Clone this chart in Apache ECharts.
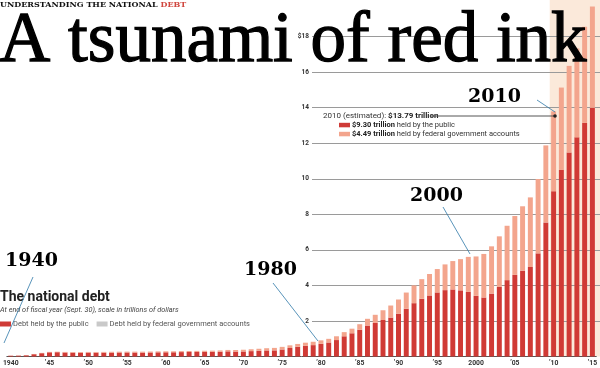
<!DOCTYPE html>
<html>
<head>
<meta charset="utf-8">
<script src="https://cdn.jsdelivr.net/npm/echarts@6/dist/echarts.min.js"></script>
<style>
  html, body { margin: 0; padding: 0; background: #fff; }
  #chart { width: 600px; height: 368px; }
</style>
</head>
<body>
<div id="chart"></div>
<script>
// Fiscal years (categories)
const years = [
  '1940','1941','1942','1943','1944','1945','1946','1947','1948','1949',
  '1950','1951','1952','1953','1954','1955','1956','1957','1958','1959',
  '1960','1961','1962','1963','1964','1965','1966','1967','1968','1969',
  '1970','1971','1972','1973','1974','1975','1976','1977','1978','1979',
  '1980','1981','1982','1983','1984','1985','1986','1987','1988','1989',
  '1990','1991','1992','1993','1994','1995','1996','1997','1998','1999',
  '2000','2001','2002','2003','2004','2005','2006','2007','2008','2009',
  '2010','2011','2012','2013','2014','2015'
];
// Debt held by the public, trillions of dollars
const publicDebt = [
  0.043,0.048,0.068,0.128,0.185,0.235,0.242,0.224,0.216,0.214,
  0.219,0.214,0.215,0.218,0.225,0.227,0.222,0.219,0.226,0.235,
  0.237,0.238,0.248,0.254,0.257,0.261,0.264,0.267,0.290,0.278,
  0.283,0.303,0.322,0.341,0.344,0.395,0.477,0.549,0.607,0.640,
  0.712,0.789,0.925,1.137,1.307,1.507,1.741,1.890,2.052,2.191,
  2.412,2.689,3.000,3.248,3.433,3.604,3.734,3.772,3.721,3.632,
  3.410,3.320,3.540,3.913,4.296,4.592,4.829,5.035,5.803,7.545,
  9.30,10.50,11.48,12.33,13.14,13.99
];
// Debt held by federal government accounts, trillions of dollars
const govAccounts = [
  0.008,0.009,0.011,0.015,0.019,0.025,0.029,0.033,0.036,0.038,
  0.038,0.041,0.044,0.048,0.046,0.048,0.051,0.053,0.053,0.053,
  0.054,0.054,0.055,0.056,0.059,0.062,0.065,0.074,0.079,0.088,
  0.098,0.105,0.114,0.125,0.140,0.147,0.152,0.157,0.170,0.189,
  0.197,0.205,0.213,0.234,0.258,0.310,0.380,0.456,0.550,0.677,
  0.795,0.909,1.002,1.103,1.210,1.316,1.447,1.597,1.757,1.973,
  2.219,2.450,2.658,2.847,3.059,3.313,3.622,3.916,4.183,4.331,
  4.49,4.63,4.87,5.00,5.41,5.70
];
// Y tick labels
const yTickLabels = { 2:'2', 4:'4', 6:'6', 8:'8', 10:'10', 12:'12', 14:'14', 16:'16', 18:'$18' };
const estimateStart = '2010';
const seriesNames = ['Debt held by the public', 'Debt held by federal government accounts'];

const RED = '#d03a35', SALMON = '#f3a58d', BEIGE = '#fbe9da', LEGEND_GRAY = '#c9c9c9';

const chart = echarts.init(document.getElementById('chart'), null, { renderer: 'canvas' });

chart.setOption({
  animation: false,
  backgroundColor: '#ffffff',
  grid: [
    { left: 0, right: 0, top: 1, bottom: 11.5 },
    { left: 312, right: 0, top: 1, bottom: 11.5 }
  ],
  xAxis: [
    {
      type: 'category', gridIndex: 0, data: years, z: 1,
      axisLine: { lineStyle: { color: '#555', width: 1 } },
      axisTick: { interval: 4, alignWithLabel: true, length: 3, lineStyle: { color: '#555' } },
      axisLabel: {
        interval: 4, margin: 3, fontSize: 6.8, fontWeight: 'bold', color: '#333', fontFamily: 'Roboto',
        formatter: v => (v === '1940' || v === '2000') ? v : '\u2019' + v.slice(2)
      }
    },
    { type: 'value', gridIndex: 1, show: false, min: 0, max: 1 }
  ],
  yAxis: [
    { type: 'value', gridIndex: 0, min: 0, max: 20, interval: 2, show: false },
    {
      type: 'value', gridIndex: 1, min: 0, max: 20, interval: 2, z: 1,
      axisLine: { show: false }, axisTick: { show: false },
      splitLine: { showMinLine: false, showMaxLine: false, lineStyle: { color: '#9a9a9a', width: 1 } },
      axisLabel: {
        margin: 3, fontSize: 6.5, fontWeight: 'bold', color: '#333', fontFamily: 'Roboto',
        formatter: v => yTickLabels[v] || ''
      }
    }
  ],
  legend: {
    left: 0, top: 320, padding: 0, itemWidth: 11, itemHeight: 5, itemGap: 8, icon: 'rect',
    textStyle: { fontSize: 7.5, color: '#555', fontFamily: 'Roboto', padding: [0, 0, 0, -3] },
    data: [
      { name: seriesNames[0], itemStyle: { color: '#cf3b37' } },
      { name: seriesNames[1], itemStyle: { color: LEGEND_GRAY } }
    ]
  },
  series: [
    { name: seriesNames[0], type: 'bar', stack: 'debt', xAxisIndex: 0, yAxisIndex: 0,
      barWidth: '64%', data: publicDebt, itemStyle: { color: RED } },
    { name: seriesNames[1], type: 'bar', stack: 'debt', xAxisIndex: 0, yAxisIndex: 0,
      data: govAccounts, itemStyle: { color: SALMON } }
  ]
});

// Shaded estimate region, positioned from the axis scale
const c0 = chart.convertToPixel({ xAxisIndex: 0 }, estimateStart);
const c1 = chart.convertToPixel({ xAxisIndex: 0 }, years[years.indexOf(estimateStart) + 1]);
const band = c1 - c0;
const shadeLeft = c0 - band / 2;
const yZero = chart.convertToPixel({ yAxisIndex: 0 }, 0);

const serifYear = 'bold 19px "DejaVu Serif"';
const pointerStyle = { stroke: '#2f78a8', lineWidth: 0.8 };
const annRich = {
  n: { font: '7.5px Roboto', fill: '#333' },
  b: { font: 'bold 7.5px Roboto', fill: '#222' },
  n8: { font: '8px Roboto', fill: '#333' },
  b8: { font: 'bold 8px Roboto', fill: '#222' }
};

chart.setOption({
  graphic: { elements: [
    { id: 'shade', type: 'rect', z: 0, silent: true,
      shape: { x: shadeLeft, y: 0, width: 600 - shadeLeft, height: yZero },
      style: { fill: BEIGE } },
    { id: 'kicker', type: 'text', z: 10, x: 0, y: 5,
      style: { text: '{k|UNDERSTANDING THE NATIONAL }{r|DEBT}', verticalAlign: 'middle',
        rich: { k: { font: 'bold 8px "DejaVu Serif"', fill: '#111' },
                r: { font: 'bold 8px "DejaVu Serif"', fill: '#d0473f' } } } },
    { id: 'title', type: 'text', z: 10, x: -1, y: 42,
      style: { text: 'A tsunami of red ink', font: '71px "Liberation Serif"', fill: '#000',
        stroke: '#000', lineWidth: 1.3, verticalAlign: 'middle' } },
    { id: 'sub1', type: 'text', z: 10, x: 0, y: 297,
      style: { text: 'The national debt', font: 'bold 14px Roboto', fill: '#222', verticalAlign: 'middle' } },
    { id: 'sub2', type: 'text', z: 10, x: 0, y: 310,
      style: { text: 'At end of fiscal year (Sept. 30), scale in trillions of dollars', font: 'italic 7.3px Roboto', fill: '#444', verticalAlign: 'middle' } },
    // 2010 annotation
    { id: 'ann1', type: 'text', z: 10, x: 323, y: 116,
      style: { text: '{n8|2010 (estimated): }{b8|$13.79 trillion}', verticalAlign: 'middle', rich: annRich } },
    { id: 'annLine', type: 'line', z: 10, shape: { x1: 430, y1: 116, x2: 555, y2: 116 }, style: { stroke: '#555', lineWidth: 1 } },
    { id: 'annDot', type: 'circle', z: 11, shape: { cx: 555, cy: 116, r: 1.8 }, style: { fill: '#222' } },
    { id: 'annSw1', type: 'rect', z: 10, shape: { x: 339, y: 122.8, width: 11, height: 4.5 }, style: { fill: '#cf3b37' } },
    { id: 'ann2', type: 'text', z: 10, x: 352, y: 125,
      style: { text: '{b|$9.30 trillion}{n| held by the public}', verticalAlign: 'middle', rich: annRich } },
    { id: 'annSw2', type: 'rect', z: 10, shape: { x: 339, y: 131.8, width: 11, height: 4.5 }, style: { fill: SALMON } },
    { id: 'ann3', type: 'text', z: 10, x: 352, y: 134,
      style: { text: '{b|$4.49 trillion}{n| held by federal government accounts}', verticalAlign: 'middle', rich: annRich } },
    // Year call-outs
    { id: 'y1940', type: 'text', z: 12, x: 5, y: 261, style: { text: '1940', font: serifYear, fill: '#000', verticalAlign: 'middle' } },
    { id: 'y1980', type: 'text', z: 12, x: 244, y: 270, style: { text: '1980', font: serifYear, fill: '#000', verticalAlign: 'middle' } },
    { id: 'y2000', type: 'text', z: 12, x: 410, y: 196, style: { text: '2000', font: serifYear, fill: '#000', verticalAlign: 'middle' } },
    { id: 'y2010', type: 'text', z: 12, x: 468, y: 97, style: { text: '2010', font: serifYear, fill: '#000', verticalAlign: 'middle' } },
    { id: 'p1940', type: 'line', z: 12, shape: { x1: 33, y1: 277, x2: 4, y2: 343 }, style: pointerStyle },
    { id: 'p1980', type: 'line', z: 12, shape: { x1: 273, y1: 283, x2: 318, y2: 341 }, style: pointerStyle },
    { id: 'p2000', type: 'line', z: 12, shape: { x1: 443, y1: 207, x2: 470, y2: 254 }, style: pointerStyle },
    { id: 'p2010', type: 'line', z: 12, shape: { x1: 537, y1: 100, x2: 555, y2: 112 }, style: pointerStyle }
  ] }
});
</script>
</body>
</html>
